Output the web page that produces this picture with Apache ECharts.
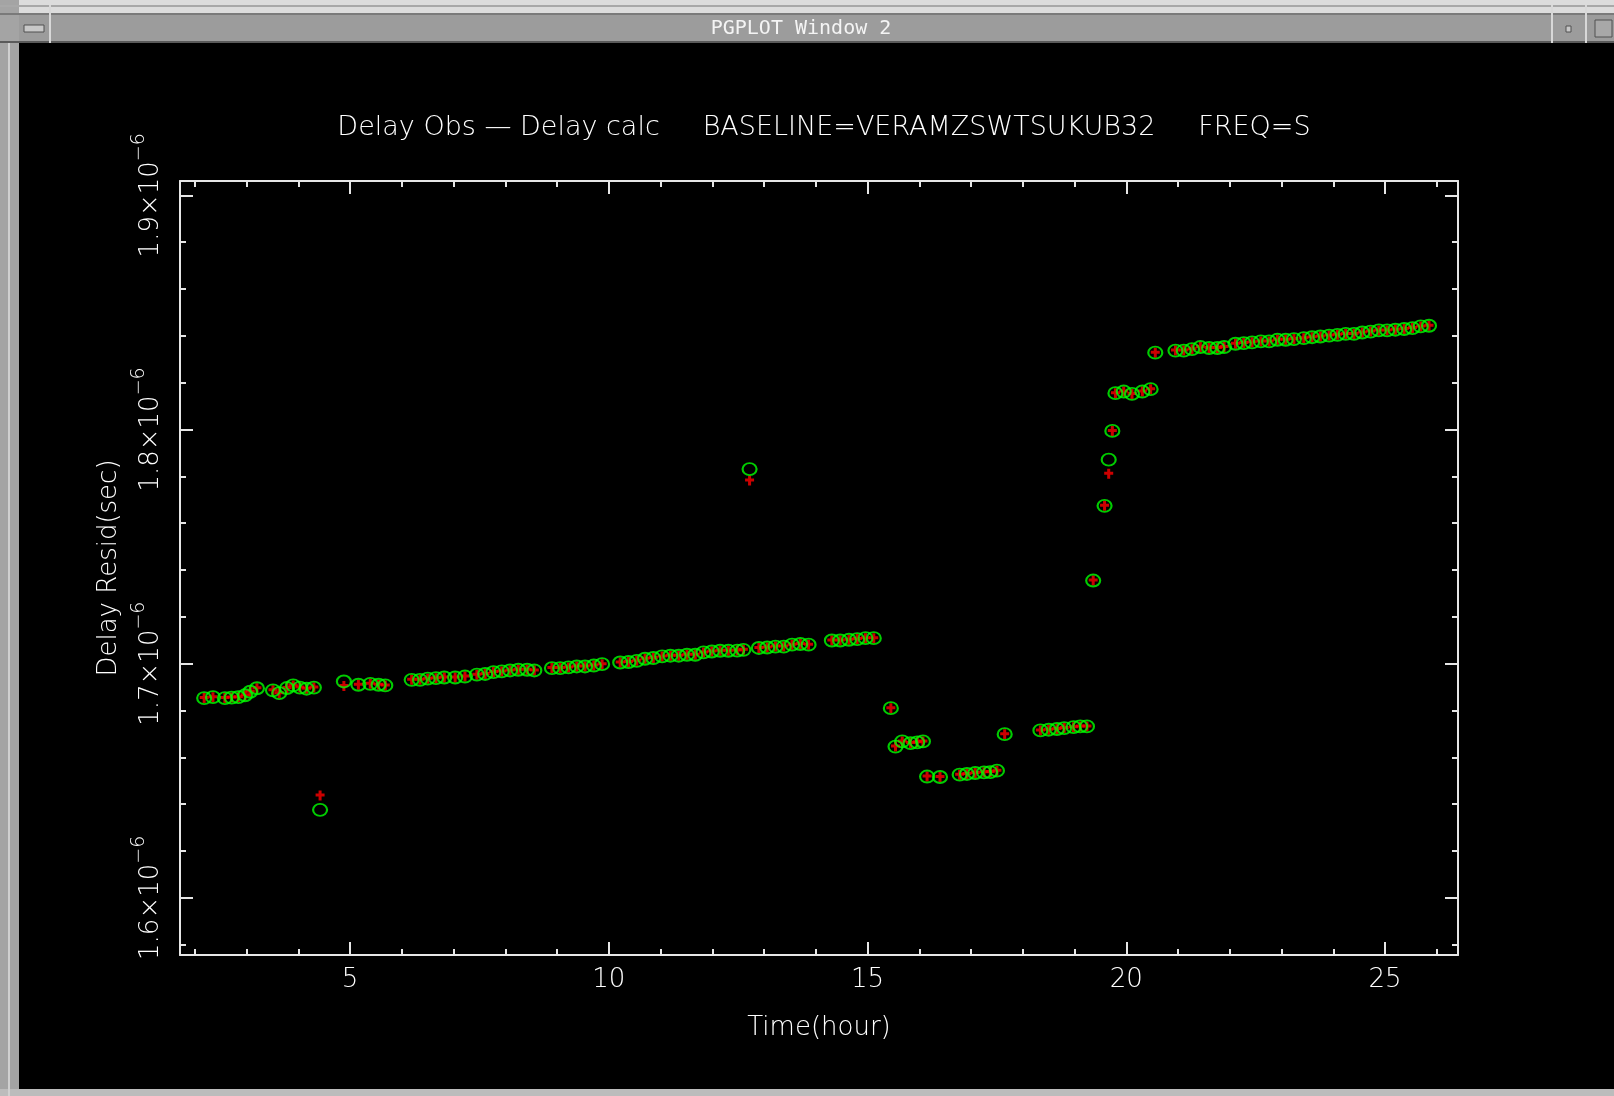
<!DOCTYPE html>
<html><head><meta charset="utf-8">
<script src="https://cdn.jsdelivr.net/npm/echarts@6/dist/echarts.min.js"></script>
<style>html,body{margin:0;padding:0;background:#000;overflow:hidden}#c{width:1614px;height:1096px}</style>
</head><body><div id="c"></div>
<script>
// Time (hour)
const timeHours = [2.18,2.35,2.58,2.71,2.84,2.97,3.07,3.20,3.51,3.63,3.78,3.90,4.03,4.16,4.30,4.42,
 4.88,5.16,5.39,5.55,5.68,6.19,6.35,6.50,6.66,6.82,7.03,7.22,7.45,7.61,7.77,7.93,8.09,8.25,8.42,8.56,
 8.90,9.06,9.22,9.38,9.54,9.71,9.87,10.22,10.38,10.54,10.70,10.86,11.03,11.19,11.35,11.51,11.67,11.83,
 11.99,12.15,12.31,12.48,12.60,12.72,12.90,13.06,13.22,13.38,13.54,13.70,13.86,14.31,14.47,14.64,14.80,
 14.96,15.12,15.45,15.54,15.67,15.83,15.96,16.07,16.15,16.40,16.78,16.92,17.08,17.25,17.37,17.50,17.65,
 18.34,18.50,18.66,18.80,18.98,19.11,19.24,19.36,19.58,19.66,19.73,19.79,19.95,20.11,20.31,20.47,20.56,
 20.95,21.11,21.27,21.43,21.60,21.76,21.89,22.11,22.27,22.43,22.60,22.76,22.92,23.08,23.24,23.43,23.59,
 23.75,23.92,24.08,24.24,24.40,24.56,24.72,24.88,25.04,25.20,25.37,25.53,25.69,25.85];
// Delay residual, units of 1e-6 s (green circles)
const residGreen = [1.6853,1.6857,1.6853,1.6855,1.6857,1.6865,1.6880,1.6895,1.6886,1.6874,1.6896,1.6907,1.6898,1.6893,1.6898,1.6376,
 1.6924,1.6910,1.6914,1.6910,1.6907,1.6931,1.6931,1.6936,1.6938,1.6941,1.6941,1.6945,1.6953,1.6956,1.6964,1.6967,1.6971,1.6974,1.6974,1.6971,
 1.6981,1.6981,1.6984,1.6988,1.6988,1.6992,1.6998,1.7005,1.7007,1.7012,1.7021,1.7024,1.7031,1.7034,1.7034,1.7038,1.7038,1.7048,
 1.7052,1.7055,1.7055,1.7056,1.7059,1.7831,1.7067,1.7069,1.7073,1.7073,1.7081,1.7084,1.7081,1.7099,1.7099,1.7102,1.7105,
 1.7109,1.7109,1.6810,1.6646,1.6668,1.6661,1.6664,1.6668,1.6518,1.6516,1.6526,1.6529,1.6533,1.6536,1.6537,1.6543,1.6699,
 1.6715,1.6718,1.6721,1.6725,1.6729,1.6732,1.6732,1.7355,1.7674,1.7871,1.7994,1.8155,1.8162,1.8152,1.8162,1.8172,1.8328,
 1.8337,1.8337,1.8343,1.8352,1.8348,1.8348,1.8352,1.8366,1.8369,1.8372,1.8376,1.8376,1.8383,1.8383,1.8386,1.8390,1.8394,
 1.8397,1.8401,1.8404,1.8408,1.8408,1.8414,1.8418,1.8423,1.8423,1.8426,1.8429,1.8433,1.8440,1.8443];
// Delay residual, units of 1e-6 s (red crosses)
const residRed = [1.6853,1.6857,1.6853,1.6855,1.6857,1.6865,1.6880,1.6895,1.6886,1.6874,1.6896,1.6907,1.6898,1.6893,1.6898,1.6437,
 1.6905,1.6910,1.6914,1.6910,1.6907,1.6931,1.6931,1.6936,1.6938,1.6941,1.6941,1.6945,1.6953,1.6956,1.6964,1.6967,1.6971,1.6974,1.6974,1.6971,
 1.6981,1.6981,1.6984,1.6988,1.6988,1.6992,1.6998,1.7005,1.7007,1.7012,1.7021,1.7024,1.7031,1.7034,1.7034,1.7038,1.7038,1.7048,
 1.7052,1.7055,1.7055,1.7056,1.7059,1.7782,1.7067,1.7069,1.7073,1.7073,1.7081,1.7084,1.7081,1.7099,1.7099,1.7102,1.7105,
 1.7109,1.7109,1.6810,1.6646,1.6668,1.6661,1.6664,1.6668,1.6518,1.6516,1.6526,1.6529,1.6533,1.6536,1.6537,1.6543,1.6699,
 1.6715,1.6718,1.6721,1.6725,1.6729,1.6732,1.6732,1.7355,1.7674,1.7811,1.7994,1.8155,1.8162,1.8152,1.8162,1.8172,1.8328,
 1.8337,1.8337,1.8343,1.8352,1.8348,1.8348,1.8352,1.8366,1.8369,1.8372,1.8376,1.8376,1.8383,1.8383,1.8386,1.8390,1.8394,
 1.8397,1.8401,1.8404,1.8408,1.8408,1.8414,1.8418,1.8423,1.8423,1.8426,1.8429,1.8433,1.8440,1.8443];
const xMajorTicks = [5,10,15,20,25];
const xMinorTicks = [2,3,4,6,7,8,9,11,12,13,14,16,17,18,19,21,22,23,24,26];
const yMajorTicks = [1.6,1.7,1.8,1.9];
const yMinorTicks = [1.58,1.62,1.64,1.66,1.68,1.72,1.74,1.76,1.78,1.82,1.84,1.86,1.88];
const xRange = [1.713, 26.41];
const yRange = [1.5756, 1.9061];
const titleText = 'Delay Obs \u2014 Delay calc     BASELINE=VERAMZSWTSUKUB32     FREQ=S';
const windowTitle = 'PGPLOT Window 2';

const FONT = '"DejaVu Sans"';
const FS = 26;
const AX = '#e6e6e6';
function axis(kind, pos, ticks, len, withLine, labelCfg, extra) {
  const r = kind === 'x' ? xRange : yRange;
  return Object.assign({
    type: 'value', position: pos, min: r[0], max: r[1],
    axisLine: {show: withLine, lineStyle: {color: AX, width: 2}},
    axisTick: {show: true, inside: true, length: len, customValues: ticks, lineStyle: {color: AX, width: 2}},
    axisLabel: labelCfg || {show: false},
    splitLine: {show: false}, minorTick: {show: false}
  }, extra || {});
}
const xLabel = {show: true, customValues: xMajorTicks, margin: 12, color: '#fff', fontSize: FS, fontFamily: FONT, fontWeight: 200};
const yLabel = {show: true, customValues: yMajorTicks, margin: 8, rotate: 90, color: '#fff',
  formatter: v => '{m|' + v.toFixed(1) + '\u00d710}{s|\u22126}',
  rich: {m: {fontSize: FS, fontFamily: FONT, fontWeight: 200, color: '#fff', lineHeight: 42},
         s: {fontSize: 19, fontFamily: FONT, fontWeight: 200, color: '#fff', lineHeight: 19, verticalAlign: 'top'}}};
const plusPath = 'path://M3,0h3v3h3v3h-3v4h-3v-4h-3v-3h3z';
const nameStyle = {color: '#fff', fontSize: FS, fontFamily: FONT, fontWeight: 200};

const chart = echarts.init(document.getElementById('c'), null, {renderer: 'canvas'});
chart.setOption({
  backgroundColor: '#000',
  animation: false,
  title: {text: titleText, left: 819, top: 109, textAlign: 'center',
    textStyle: {color: '#fff', fontSize: 27, fontFamily: FONT, fontWeight: 200}},
  grid: {left: 180, top: 181, right: 156, bottom: 141, containLabel: false, outerBoundsMode: 'none'},
  xAxis: [
    axis('x', 'bottom', xMajorTicks, 13, true, xLabel, {name: 'Time(hour)', nameLocation: 'middle', nameGap: 60, nameTextStyle: nameStyle}),
    axis('x', 'bottom', xMinorTicks, 6, false),
    axis('x', 'top', xMajorTicks, 13, true),
    axis('x', 'top', xMinorTicks, 6, false)
  ],
  yAxis: [
    axis('y', 'left', yMajorTicks, 13, true, yLabel, {name: 'Delay Resid(sec)', nameLocation: 'middle', nameGap: 57, nameTextStyle: nameStyle}),
    axis('y', 'left', yMinorTicks, 6, false),
    axis('y', 'right', yMajorTicks, 13, true),
    axis('y', 'right', yMinorTicks, 6, false)
  ],
  series: [
    {type: 'scatter', xAxisIndex: 0, yAxisIndex: 0, data: timeHours.map((t, i) => [t, residRed[i]]),
     symbol: plusPath, symbolSize: [9, 10], itemStyle: {color: '#ff0000'}, silent: true, z: 2},
    {type: 'scatter', xAxisIndex: 0, yAxisIndex: 0, data: timeHours.map((t, i) => [t, residGreen[i]]),
     symbol: 'circle', symbolSize: [14, 12], itemStyle: {color: 'rgba(0,0,0,0)', borderColor: '#00ff00', borderWidth: 2}, silent: true, z: 3}
  ],
  graphic: [
    {type: 'rect', shape: {x: 0, y: 0, width: 1614, height: 15}, style: {fill: '#dcdcdc'}, z: 100},
    {type: 'rect', shape: {x: 0, y: 5, width: 1614, height: 2}, style: {fill: '#a8a8a8'}, z: 101},
    {type: 'rect', shape: {x: 0, y: 13, width: 1614, height: 2}, style: {fill: '#7a7a7a'}, z: 101},
    {type: 'rect', shape: {x: 0, y: 15, width: 1614, height: 27}, style: {fill: '#9c9c9c'}, z: 100},
    {type: 'rect', shape: {x: 0, y: 41, width: 1614, height: 2}, style: {fill: '#5a5a5a'}, z: 101},
    {type: 'rect', shape: {x: 0, y: 0, width: 19, height: 1096}, style: {fill: '#a4a4a4'}, z: 100},
    {type: 'rect', shape: {x: 8, y: 43, width: 2, height: 1053}, style: {fill: '#d0d0d0'}, z: 101},
    {type: 'rect', shape: {x: 0, y: 1089, width: 1614, height: 7}, style: {fill: '#bcbcbc'}, z: 100},
    {type: 'rect', shape: {x: 49, y: 5, width: 2, height: 38}, style: {fill: '#d8d8d8'}, z: 102},
    {type: 'rect', shape: {x: 1551, y: 5, width: 2, height: 38}, style: {fill: '#d8d8d8'}, z: 102},
    {type: 'rect', shape: {x: 1585, y: 5, width: 2, height: 38}, style: {fill: '#d8d8d8'}, z: 102},
    {type: 'rect', shape: {x: 24, y: 25, width: 20, height: 7}, style: {fill: '#c8c8c8', stroke: '#505050', lineWidth: 1}, z: 102},
    {type: 'rect', shape: {x: 1566, y: 26, width: 5, height: 6}, style: {fill: '#c8c8c8', stroke: '#505050', lineWidth: 1}, z: 102},
    {type: 'rect', shape: {x: 1595, y: 20, width: 17, height: 17}, style: {fill: '#a8a8a8', stroke: '#505050', lineWidth: 1}, z: 102},
    {type: 'text', x: 801, y: 29, style: {text: windowTitle, fill: '#f4f4f4', font: '20px "DejaVu Sans Mono"', align: 'center', verticalAlign: 'middle'}, z: 103}
  ]
});
</script></body></html>
